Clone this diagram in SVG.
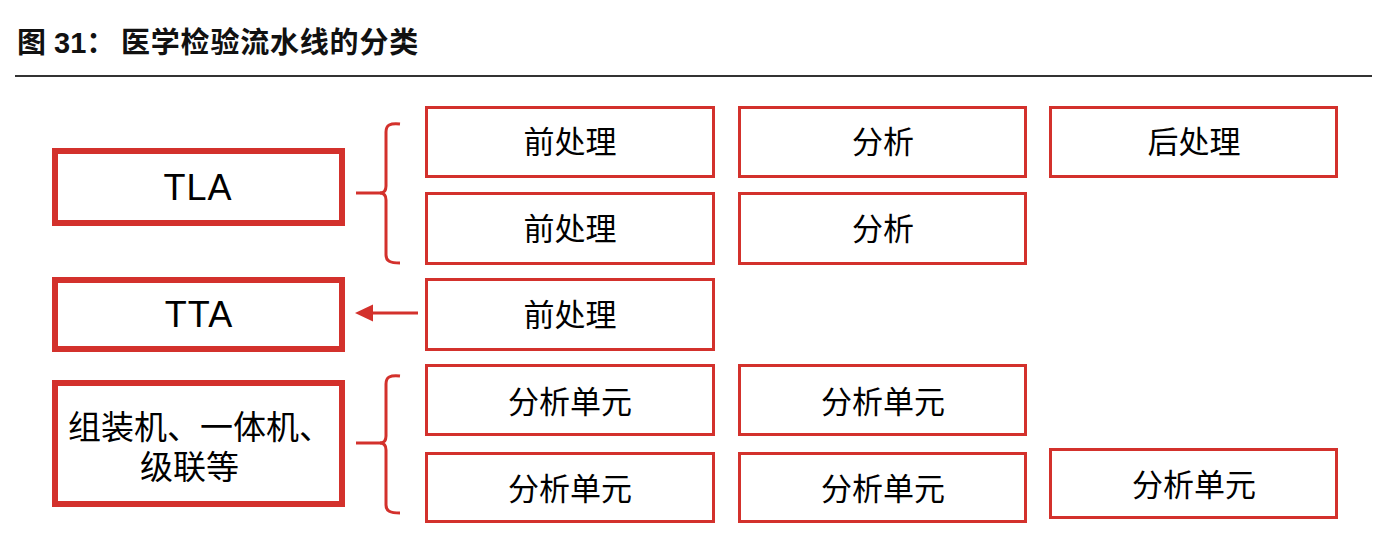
<svg xmlns="http://www.w3.org/2000/svg" width="1388" height="550" viewBox="0 0 1388 550">
<style>
.thick{fill:#fff;stroke:#d3312c;stroke-width:6}
.thin{fill:#fff;stroke:#d3312c;stroke-width:3}
.lbl{font-family:"Liberation Sans","Noto Sans CJK SC",sans-serif;font-size:36px;fill:#000;text-anchor:middle;letter-spacing:1px}
.cn{font-family:"Noto Sans CJK SC",sans-serif;font-size:31px;fill:#000;text-anchor:middle}
.cnb{font-family:"Noto Sans CJK SC",sans-serif;font-size:33px;fill:#000}
.conn{fill:none;stroke:#d3312c;stroke-width:3}
.title{font-family:"Liberation Sans","Noto Sans CJK SC",sans-serif;font-size:29px;font-weight:bold;fill:#111}
</style>
<rect width="1388" height="550" fill="#fff"/>
<g id="title">
<text class="title" y="53"><tspan x="17">图 31：</tspan><tspan x="121" letter-spacing="0.8">医学检验流水线的分类</tspan></text>
<line x1="15" y1="76" x2="1372" y2="76" stroke="#333" stroke-width="2"/>
</g>
<g id="tla"><rect class="thick" x="55" y="151" width="287" height="72"/><text class="lbl" x="198" y="200">TLA</text></g>
<g id="tta"><rect class="thick" x="55" y="280" width="287" height="69"/><text class="lbl" x="199" y="327">TTA</text></g>
<g id="combo"><rect class="thick" x="55" y="383" width="287" height="121"/><text class="cnb" x="68" y="439">组装机、一体机、</text><text class="cnb" x="140" y="479">级联等</text></g>
<g id="r1c1"><rect class="thin" x="426.5" y="107.5" width="287" height="69"/><text class="cn" x="570" y="153">前处理</text></g>
<g id="r1c2"><rect class="thin" x="739.5" y="107.5" width="286" height="69"/><text class="cn" x="883" y="153">分析</text></g>
<g id="r1c3"><rect class="thin" x="1050.5" y="107.5" width="286" height="69"/><text class="cn" x="1194" y="153">后处理</text></g>
<g id="r2c1"><rect class="thin" x="426.5" y="193.5" width="287" height="70"/><text class="cn" x="570" y="240">前处理</text></g>
<g id="r2c2"><rect class="thin" x="739.5" y="193.5" width="286" height="70"/><text class="cn" x="883" y="240">分析</text></g>
<g id="r3c1"><rect class="thin" x="426.5" y="279.5" width="287" height="70"/><text class="cn" x="570" y="326">前处理</text></g>
<g id="r4c1"><rect class="thin" x="426.5" y="365.5" width="287" height="69"/><text class="cn" x="570" y="413">分析单元</text></g>
<g id="r4c2"><rect class="thin" x="739.5" y="365.5" width="286" height="69"/><text class="cn" x="883" y="413">分析单元</text></g>
<g id="r5c1"><rect class="thin" x="426.5" y="453.5" width="287" height="68"/><text class="cn" x="570" y="500">分析单元</text></g>
<g id="r5c2"><rect class="thin" x="739.5" y="453.5" width="286" height="68"/><text class="cn" x="883" y="500">分析单元</text></g>
<g id="r5c3"><rect class="thin" x="1050.5" y="449.5" width="286" height="68"/><text class="cn" x="1194" y="496">分析单元</text></g>
<g id="connectors">
<path class="conn" d="M400,124 C390,123 386,125 386,132 L386,186 Q386,193 380,193 Q386,193 386,200 L386,255 C386,261 390,263 400,263"/>
<line class="conn" x1="356" y1="193" x2="382" y2="193"/>
<path class="conn" d="M400,376 C390,375 386,377 386,384 L386,436 Q386,443 380,443 Q386,443 386,450 L386,505 C386,511 390,513 400,513"/>
<line class="conn" x1="356" y1="443" x2="382" y2="443"/>
<line class="conn" x1="418" y1="313" x2="370" y2="313"/>
<polygon points="355,313 373,304.5 373,321.5" fill="#d3312c"/>
</g>
</svg>
